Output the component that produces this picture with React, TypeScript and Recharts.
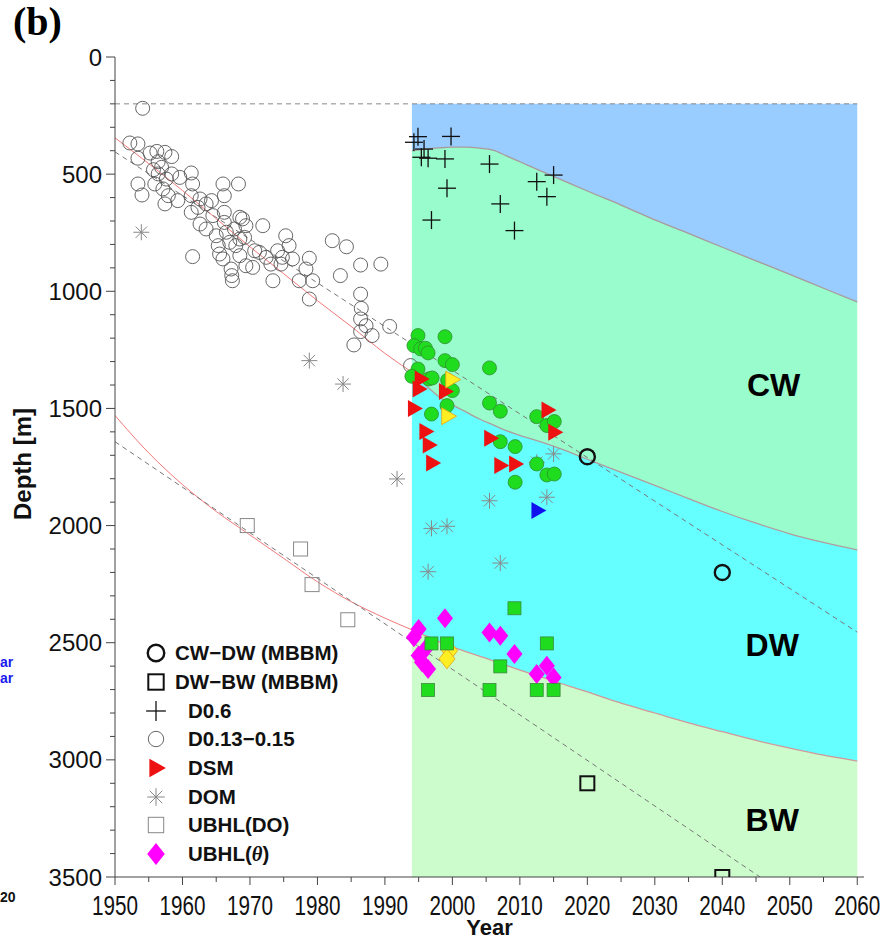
import React from 'react';
import {
  ComposedChart,
  Area,
  Line,
  Scatter,
  XAxis,
  YAxis,
  Legend,
  ReferenceDot,
} from 'recharts';

// year, depth [m]
const D013: [number, number][] = [
  [1954.1, 219], [1952.2, 367], [1953.4, 371], [1953.4, 432], [1955.2, 410], [1956.2, 403], [1957.4, 407],
  [1958.4, 425], [1956.4, 447], [1955.7, 481], [1956.9, 471], [1956.4, 499], [1958.4, 499], [1959.6, 514],
  [1957.6, 521], [1953.4, 542], [1955.9, 542], [1954.0, 589], [1957.1, 563], [1957.9, 592], [1957.4, 627],
  [1959.3, 613], [1961.3, 495], [1961.5, 542], [1961.3, 592], [1961.3, 663], [1962.6, 606], [1962.3, 642],
  [1963.5, 627], [1964.3, 613], [1962.6, 713], [1963.5, 734], [1964.5, 677], [1966.0, 542], [1966.2, 592],
  [1968.3, 542], [1966.2, 663], [1966.2, 706], [1965.0, 763], [1965.3, 805], [1965.5, 841], [1966.0, 862],
  [1966.5, 748], [1967.0, 791], [1967.2, 905], [1967.3, 933], [1967.4, 955], [1967.7, 734], [1968.5, 684],
  [1968.9, 691], [1969.4, 720], [1968.5, 777], [1969.2, 770], [1967.9, 805], [1968.5, 848], [1969.4, 891],
  [1970.4, 898], [1970.7, 827], [1971.9, 720], [1971.4, 834], [1972.4, 855], [1973.1, 884], [1974.1, 827],
  [1974.6, 884], [1973.4, 955], [1975.3, 763], [1975.8, 805], [1974.8, 855], [1976.3, 862], [1977.3, 955],
  [1978.3, 905], [1978.8, 859], [1979.3, 955], [1978.8, 1033], [1961.5, 852], [1982.2, 784], [1984.3, 810],
  [1983.4, 933], [1986.4, 888], [1989.4, 884], [1986.4, 1012], [1986.5, 1073], [1986.4, 1118], [1987.2, 1147],
  [1986.4, 1172], [1988.1, 1189], [1985.4, 1229], [1990.7, 1150], [1993.8, 1317],
];
const D013_NEW: [number, number][] = [
  [1994.9, 1189], [1998.9, 1194], [1994.3, 1232], [1995.3, 1246], [1996.0, 1243], [1996.4, 1263],
  [1998.9, 1296], [2000.0, 1313], [1994.9, 1332], [1994.0, 1363], [1996.5, 1374], [1997.0, 1370],
  [1999.3, 1380], [2000.0, 1424], [1999.2, 1488], [1996.9, 1524], [2005.5, 1327], [2005.5, 1477],
  [2007.1, 1512], [2012.5, 1535], [2014.0, 1573], [2015.1, 1556], [2007.1, 1642], [2009.3, 1663],
  [2012.5, 1737], [2014.0, 1784], [2015.1, 1780], [2009.3, 1815],
];
const D06: [number, number][] = [
  [1994.3, 364], [1994.9, 340], [1995.8, 393], [1995.4, 428], [1996.4, 432], [1999.8, 339], [1998.9, 435],
  [1999.2, 560], [1996.9, 696], [2005.5, 457], [2007.1, 627], [2009.2, 741], [2012.5, 532], [2015.0, 504],
  [2014.0, 596],
];
const DSM: [number, number][] = [
  [1995.3, 1374], [1995.0, 1417], [1998.9, 1428], [1994.3, 1500], [1996.0, 1599], [1996.5, 1656],
  [1997.0, 1733], [2005.6, 1627], [2007.1, 1744], [2009.3, 1737], [2014.1, 1507], [2015.1, 1602],
];
const DSM_YELLOW: [number, number][] = [[1999.9, 1377], [1999.3, 1533]];
const DSM_BLUE: [number, number][] = [[2012.6, 1936]];
const DOM: [number, number][] = [
  [1953.9, 748], [1978.8, 1296], [1983.8, 1396], [1991.8, 1801], [2005.5, 1894], [2014.0, 1879],
  [2012.5, 1730], [2015.0, 1694], [1996.9, 2012], [1999.2, 2003], [1996.4, 2197], [2007.1, 2160],
];
const UBHL_DO: [number, number][] = [[1969.6, 2000], [1977.5, 2100], [1979.2, 2252], [1984.5, 2402]];
const UBHL_DO_NEW: [number, number][] = [
  [1996.9, 2503], [1999.2, 2503], [2009.2, 2353], [2014.0, 2503], [2007.1, 2601],
  [1996.4, 2702], [2005.5, 2702], [2012.5, 2702], [2015.0, 2702],
];
const UBHL_THETA: [number, number][] = [
  [1995.0, 2441], [1994.3, 2477], [1998.9, 2396], [1995.0, 2555], [1996.0, 2527], [1995.5, 2583],
  [1996.4, 2612], [2005.5, 2456], [2007.1, 2470], [2009.2, 2548], [2012.5, 2634], [2014.0, 2598],
  [2015.0, 2648],
];
const UBHL_THETA_YELLOW: [number, number][] = [[1999.6, 2534], [1999.2, 2569]];
const CWDW_MBBM: [number, number][] = [[2020, 1706], [2040, 2200]];
const DWBW_MBBM: [number, number][] = [[2020, 3100], [2040, 3500]];

// water mass boundaries (1994-2060)
const ZONE_YEARS = [1994, 1996, 1998, 2000, 2002, 2004, 2006, 2008, 2010, 2013, 2016, 2020, 2025, 2030, 2035, 2040, 2045, 2050, 2055, 2060];
const TOP_CW = [400, 393, 388, 385, 385, 389, 398, 422, 447, 485, 522, 572, 632, 695, 753, 812, 870, 928, 987, 1045];
const CW_DW = [1345, 1400, 1450, 1485, 1515, 1545, 1570, 1595, 1615, 1642, 1672, 1717, 1773, 1828, 1885, 1940, 1990, 2035, 2072, 2104];
const DW_BW = [2445, 2470, 2495, 2518, 2538, 2557, 2577, 2597, 2617, 2645, 2673, 2710, 2758, 2800, 2842, 2880, 2917, 2950, 2980, 3005];
const ZONE_TOP = 200;
const ZONE_BOTTOM = 3500;

// fitted curves before 1994
const FIT_YEARS = [1950, 1955, 1960, 1965, 1970, 1975, 1980, 1985, 1990, 1994];
const FIT_CWDW = [345, 455, 570, 690, 810, 925, 1040, 1150, 1265, 1345];
const FIT_DWBW = [1530, 1690, 1825, 1940, 2040, 2140, 2240, 2325, 2395, 2445];

// linear trends
const TREND_UPPER: [number, number][] = [[1950, 405], [2060, 2455]];
const TREND_LOWER: [number, number][] = [[1950, 1642], [2045.6, 3500]];
const TOP_LINE: [number, number][] = [[1950, 200], [2060, 200]];

const X_TICKS = Array.from({ length: 23 }, (_, i) => 1950 + i * 5);
const Y_TICKS = Array.from({ length: 36 }, (_, i) => i * 100);

const pts = (a: [number, number][]) => a.map(([x, y]) => ({ x, y }));
const zoneRows = ZONE_YEARS.map((x, i) => ({
  x,
  blue: [ZONE_TOP, TOP_CW[i]],
  cw: [TOP_CW[i], CW_DW[i]],
  dw: [CW_DW[i], DW_BW[i]],
  bw: [DW_BW[i], ZONE_BOTTOM],
}));
const curve = (xs: number[], ys: number[]) => xs.map((x, i) => ({ x, y: ys[i] }));

const SANS = "'Liberation Sans', Arial, sans-serif";
const AXIS = '#444';

function Marker({ kind, cx, cy, s = 1 }: { kind: string; cx: number; cy: number; s?: number }) {
  switch (kind) {
    case 'circle':
      return <circle cx={cx} cy={cy} r={7 * s} fill="none" stroke="#555" strokeWidth={0.9} />;
    case 'greenCircle':
      return <circle cx={cx} cy={cy} r={7} fill="#1fdc1f" stroke="#2f8f2f" strokeWidth={0.8} />;
    case 'plus':
      return (
        <g stroke="#111" strokeWidth={1.3}>
          <line x1={cx - 9 * s} x2={cx + 9 * s} y1={cy} y2={cy} />
          <line x1={cx} x2={cx} y1={cy - 9 * s} y2={cy + 9 * s} />
        </g>
      );
    case 'tri':
    case 'yellowTri':
    case 'blueTri': {
      const fill = kind === 'tri' ? '#ee1111' : kind === 'blueTri' ? '#1111ee' : '#ffee22';
      const stroke = kind === 'yellowTri' ? '#e0a020' : 'none';
      return <polygon points={`${cx - 6 * s},${cy - 8.5 * s} ${cx + 9 * s},${cy} ${cx - 6 * s},${cy + 8.5 * s}`} fill={fill} stroke={stroke} strokeWidth={0.8} />;
    }
    case 'star':
      return (
        <g stroke="#888" strokeWidth={1}>
          <line x1={cx - 8 * s} x2={cx + 8 * s} y1={cy} y2={cy} />
          <line x1={cx} x2={cx} y1={cy - 8 * s} y2={cy + 8 * s} />
          <line x1={cx - 5.7 * s} x2={cx + 5.7 * s} y1={cy - 5.7 * s} y2={cy + 5.7 * s} />
          <line x1={cx - 5.7 * s} x2={cx + 5.7 * s} y1={cy + 5.7 * s} y2={cy - 5.7 * s} />
        </g>
      );
    case 'square':
      return <rect x={cx - 7 * s} y={cy - 7 * s} width={14 * s} height={14 * s} fill="none" stroke="#888" strokeWidth={1} />;
    case 'greenSquare':
      return <rect x={cx - 6.5} y={cy - 6.5} width={13} height={13} fill="#1fdc1f" stroke="#3a8a3a" strokeWidth={0.8} />;
    case 'diamond':
    case 'yellowDiamond': {
      const fill = kind === 'diamond' ? '#ff00ff' : '#ffee22';
      const stroke = kind === 'diamond' ? 'none' : '#e0a020';
      return <polygon points={`${cx},${cy - 10 * s} ${cx + 8 * s},${cy} ${cx},${cy + 10 * s} ${cx - 8 * s},${cy}`} fill={fill} stroke={stroke} strokeWidth={0.8} />;
    }
    case 'mbbmCircle':
      return <circle cx={cx} cy={cy} r={7.5 * s} fill="none" stroke="#111" strokeWidth={2.4} />;
    case 'mbbmSquare':
      return <rect x={cx - 7 * s} y={cy - 7 * s} width={14 * s} height={14 * s} fill="none" stroke="#111" strokeWidth={2} />;
    default:
      return null;
  }
}

const shapeOf = (kind: string) => (p: any) => <Marker kind={kind} cx={p.cx} cy={p.cy} />;

const LEGEND_ROWS = [
  { kind: 'mbbmCircle', label: 'CW\u2212DW (MBBM)', gap: 9 },
  { kind: 'mbbmSquare', label: 'DW\u2212BW (MBBM)', gap: 9 },
  { kind: 'plus', label: 'D0.6', gap: 22 },
  { kind: 'circle', label: 'D0.13\u22120.15', gap: 22 },
  { kind: 'tri', label: 'DSM', gap: 22 },
  { kind: 'star', label: 'DOM', gap: 22 },
  { kind: 'square', label: 'UBHL(DO)', gap: 22 },
  { kind: 'diamond', label: 'UBHL(', theta: true, gap: 22 },
];

function LegendBox() {
  return (
    <div style={{ fontFamily: SANS, fontWeight: 'bold', fontSize: 20.5, color: '#111' }}>
      {LEGEND_ROWS.map((r) => (
        <div key={r.kind} style={{ display: 'flex', alignItems: 'center', height: 28.7 }}>
          <svg width={20} height={22} style={{ overflow: 'visible' }}>
            <Marker kind={r.kind} cx={10} cy={11} s={1.1} />
          </svg>
          <span style={{ marginLeft: r.gap }}>
            {r.label}
            {r.theta && (
              <>
                <i style={{ fontFamily: "'Liberation Serif', serif" }}>{'\u03b8'}</i>)
              </>
            )}
          </span>
        </div>
      ))}
    </div>
  );
}

function BottomTick({ x, y, payload }: any) {
  const major = payload.value % 10 === 0;
  return (
    <g>
      <line x1={x} x2={x} y1={y} y2={y + (major ? 8 : 5)} stroke={AXIS} />
      {major && (
        <text
          x={x}
          y={y + 38}
          textAnchor="middle"
          fontSize={27}
          fontFamily={SANS}
          fill="#111"
          textLength={46}
          lengthAdjust="spacingAndGlyphs"
        >
          {payload.value}
        </text>
      )}
    </g>
  );
}

function TopTick({ x, y, payload }: any) {
  const major = payload.value % 10 === 0;
  return <line x1={x} x2={x} y1={y} y2={y - (major ? 8 : 5)} stroke={AXIS} />;
}

function LeftTick({ x, y, payload }: any) {
  const major = payload.value % 500 === 0;
  return (
    <g>
      <line x1={x - (major ? 9 : 5)} x2={x} y1={y} y2={y} stroke={AXIS} />
      {major && (
        <text x={x - 13} y={y + 8.5} textAnchor="end" fontSize={24} fontFamily={SANS} fill="#111">
          {payload.value}
        </text>
      )}
    </g>
  );
}

function RightTick({ x, y, payload }: any) {
  const major = payload.value % 500 === 0;
  return <line x1={x} x2={x + (major ? 8 : 5)} y1={y} y2={y} stroke={AXIS} />;
}

const zoneLabel = (value: string) => ({
  value,
  position: 'center' as const,
  fontSize: 32,
  fontWeight: 'bold',
  fontFamily: SANS,
  fill: '#000',
});

export default function App() {
  return (
    <div style={{ position: 'absolute', left: 0, top: 0, width: 883, height: 939, background: '#fff' }}>
      <ComposedChart
        width={883}
        height={939}
        data={zoneRows}
        margin={{ top: 57, right: 19, bottom: 0, left: 0 }}
      >
        <XAxis
          xAxisId={0}
          dataKey="x"
          type="number"
          domain={[1950, 2061]}
          ticks={X_TICKS}
          interval={0}
          height={62}
          tickSize={0}
          tickMargin={0}
          tickLine={false}
          tick={<BottomTick />}
          axisLine={{ stroke: AXIS }}
          allowDataOverflow
          label={{
            content: ({ viewBox }: any) => (
              <text
                x={viewBox.x + viewBox.width / 2}
                y={viewBox.y + 58}
                textAnchor="middle"
                fontSize={22}
                fontWeight="bold"
                fontFamily={SANS}
                fill="#111"
              >
                Year
              </text>
            ),
          }}
        />
        <XAxis
          xAxisId="top"
          orientation="top"
          dataKey="x"
          type="number"
          domain={[1950, 2061]}
          ticks={X_TICKS}
          interval={0}
          height={0}
          tickSize={0}
          tickMargin={0}
          tickLine={false}
          tick={<TopTick />}
          axisLine={{ stroke: AXIS }}
          allowDataOverflow
        />
        <YAxis
          yAxisId={0}
          type="number"
          domain={[0, 3500]}
          reversed
          ticks={Y_TICKS}
          interval={0}
          width={115}
          tickSize={0}
          tickMargin={0}
          tickLine={false}
          tick={<LeftTick />}
          axisLine={{ stroke: AXIS }}
          allowDataOverflow
          label={{
            content: ({ viewBox }: any) => {
              const cx = viewBox.x + 31;
              const cy = viewBox.y + viewBox.height / 2 - 3;
              return (
                <text
                  x={cx}
                  y={cy}
                  transform={`rotate(-90 ${cx} ${cy})`}
                  textAnchor="middle"
                  fontSize={24}
                  fontWeight="bold"
                  fontFamily={SANS}
                  fill="#111"
                >
                  Depth [m]
                </text>
              );
            },
          }}
        />
        <YAxis
          yAxisId="right"
          orientation="right"
          type="number"
          domain={[0, 3500]}
          reversed
          ticks={Y_TICKS}
          interval={0}
          width={0}
          tickSize={0}
          tickMargin={0}
          tickLine={false}
          tick={<RightTick />}
          axisLine={{ stroke: AXIS }}
          allowDataOverflow
        />

        {/* water masses */}
        <Area type="monotone" dataKey="blue" fill="#99ccff" fillOpacity={1} stroke="none" isAnimationActive={false} />
        <Area type="monotone" dataKey="cw" fill="#99fccc" fillOpacity={1} stroke="none" isAnimationActive={false} />
        <Area type="monotone" dataKey="dw" fill="#66ffff" fillOpacity={1} stroke="none" isAnimationActive={false} />
        <Area type="monotone" dataKey="bw" fill="#ccfccc" fillOpacity={1} stroke="none" isAnimationActive={false} />

        {/* boundaries */}
        <Line data={curve(ZONE_YEARS, TOP_CW)} dataKey="y" type="monotone" stroke="#a89a9a" strokeWidth={1.3} dot={false} isAnimationActive={false} />
        <Line data={curve(ZONE_YEARS, CW_DW)} dataKey="y" type="monotone" stroke="#b09c9c" strokeWidth={1.3} dot={false} isAnimationActive={false} />
        <Line data={curve(ZONE_YEARS, DW_BW)} dataKey="y" type="monotone" stroke="#d09898" strokeWidth={1.3} dot={false} isAnimationActive={false} />
        <Line data={curve(FIT_YEARS, FIT_CWDW)} dataKey="y" type="monotone" stroke="#f07a7a" strokeWidth={1} dot={false} isAnimationActive={false} />
        <Line data={curve(FIT_YEARS, FIT_DWBW)} dataKey="y" type="monotone" stroke="#f07a7a" strokeWidth={1} dot={false} isAnimationActive={false} />
        <Line data={pts(TREND_UPPER)} dataKey="y" type="linear" stroke="#777" strokeWidth={1} strokeDasharray="5 4" dot={false} isAnimationActive={false} />
        <Line data={pts(TREND_LOWER)} dataKey="y" type="linear" stroke="#777" strokeWidth={1} strokeDasharray="5 4" dot={false} isAnimationActive={false} />
        <Line data={pts(TOP_LINE)} dataKey="y" type="linear" stroke="#888" strokeWidth={1} strokeDasharray="5 4" dot={false} isAnimationActive={false} />

        {/* observations */}
        <Scatter name="D0.13-0.15" data={pts(D013)} dataKey="y" shape={shapeOf('circle')} isAnimationActive={false} />
        <Scatter name="DOM" data={pts(DOM)} dataKey="y" shape={shapeOf('star')} isAnimationActive={false} />
        <Scatter name="UBHL(DO)" data={pts(UBHL_DO)} dataKey="y" shape={shapeOf('square')} isAnimationActive={false} />
        <Scatter name="D0.6" data={pts(D06)} dataKey="y" shape={shapeOf('plus')} isAnimationActive={false} />
        <Scatter name="D0.13-0.15 new" data={pts(D013_NEW)} dataKey="y" shape={shapeOf('greenCircle')} legendType="none" isAnimationActive={false} />
        <Scatter name="DSM" data={pts(DSM)} dataKey="y" shape={shapeOf('tri')} isAnimationActive={false} />
        <Scatter name="DSM yellow" data={pts(DSM_YELLOW)} dataKey="y" shape={shapeOf('yellowTri')} legendType="none" isAnimationActive={false} />
        <Scatter name="DSM blue" data={pts(DSM_BLUE)} dataKey="y" shape={shapeOf('blueTri')} legendType="none" isAnimationActive={false} />
        <Scatter name="UBHL(theta)" data={pts(UBHL_THETA)} dataKey="y" shape={shapeOf('diamond')} isAnimationActive={false} />
        <Scatter name="UBHL(theta) yellow" data={pts(UBHL_THETA_YELLOW)} dataKey="y" shape={shapeOf('yellowDiamond')} legendType="none" isAnimationActive={false} />
        <Scatter name="UBHL(DO) new" data={pts(UBHL_DO_NEW)} dataKey="y" shape={shapeOf('greenSquare')} legendType="none" isAnimationActive={false} />
        <Scatter name="CW-DW (MBBM)" data={pts(CWDW_MBBM)} dataKey="y" shape={shapeOf('mbbmCircle')} isAnimationActive={false} />
        <Scatter name="DW-BW (MBBM)" data={pts(DWBW_MBBM)} dataKey="y" shape={shapeOf('mbbmSquare')} isAnimationActive={false} />

        <ReferenceDot x={2047.6} y={1400} r={0} fill="none" stroke="none" label={zoneLabel('CW')} />
        <ReferenceDot x={2047.4} y={2510} r={0} fill="none" stroke="none" label={zoneLabel('DW')} />
        <ReferenceDot x={2047.4} y={3255} r={0} fill="none" stroke="none" label={zoneLabel('BW')} />

        <Legend
          layout="vertical"
          align="center"
          verticalAlign="middle"
          wrapperStyle={{ left: 146, top: 639, width: 240 }}
          content={() => <LegendBox />}
        />
      </ComposedChart>
      <div style={{ position: 'absolute', left: 13, top: -2, fontFamily: "'Liberation Serif', serif", fontWeight: 'bold', fontSize: 40 }}>(b)</div>
      <div style={{ position: 'absolute', left: 0, top: 654, fontFamily: SANS, fontWeight: 'bold', fontSize: 14, color: '#1a1aee', lineHeight: '16px' }}>
        ar<br />ar
      </div>
      <div style={{ position: 'absolute', left: 0, top: 889, fontFamily: SANS, fontWeight: 'bold', fontSize: 14, color: '#111' }}>20</div>
    </div>
  );
}
